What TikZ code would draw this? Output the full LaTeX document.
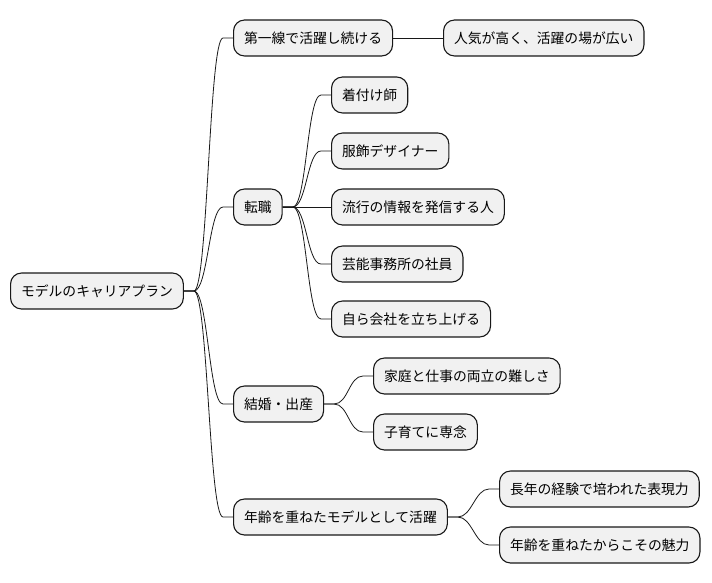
\documentclass[tikz,border=0pt]{standalone}
\usepackage{fontspec}
\setmainfont{Noto Sans CJK JP}
\usepackage{tikz}
\usetikzlibrary{positioning,calc}
\definecolor{boxfill}{HTML}{F1F1F1}
\definecolor{boxline}{HTML}{181818}

\begin{document}
\begin{tikzpicture}[x=1pt,y=-1pt,
  topic/.style={draw=boxline,fill=boxfill,line width=1.1pt,rounded corners=11pt,
    minimum height=36pt,inner xsep=10.5pt,anchor=west,
    font=\fontsize{13.8pt}{16pt}\selectfont},
  link/.style={line width=0.8pt,boxline},
  branch/.style={to path={-- ++(10pt,0) .. controls +(14pt,0) and ($(\tikztotarget)+(-24pt,0)$) .. ($(\tikztotarget)+(-10pt,0)$) -- (\tikztotarget)}}
]
\useasboundingbox (0,0) rectangle (712,583);

%--- Root ---
\node[topic] (root) at (10,291) {モデルのキャリアプラン};

%--- First level ---
\node[topic] (first)  at (233,38)  {第一線で活躍し続ける};
\node[topic] (change) at (233,207) {転職};
\node[topic] (family) at (233,404) {結婚・出産};
\node[topic] (mature) at (233,517) {年齢を重ねたモデルとして活躍};

%--- Second level ---
\node[topic] (popular) at (443,38) {人気が高く、活躍の場が広い};

\node[topic] (kitsuke) at (331,95)  {着付け師};
\node[topic] (design)  at (331,151) {服飾デザイナー};
\node[topic] (trend)   at (331,207) {流行の情報を発信する人};
\node[topic] (agency)  at (331,264) {芸能事務所の社員};
\node[topic] (company) at (331,319) {自ら会社を立ち上げる};

\node[topic] (balance) at (373,376) {家庭と仕事の両立の難しさ};
\node[topic] (raise)   at (373,432) {子育てに専念};

\node[topic] (express) at (499,489) {長年の経験で培われた表現力};
\node[topic] (charm)   at (499,545) {年齢を重ねたからこその魅力};

%--- Links ---
\foreach \c in {first,change,family,mature}
  \draw[link] (root.east) to[branch] (\c.west);
\draw[link] (first.east) -- (popular.west);
\foreach \c in {kitsuke,design,agency,company}
  \draw[link] (change.east) to[branch] (\c.west);
\draw[link] (change.east) -- (trend.west);
\foreach \c in {balance,raise}
  \draw[link] (family.east) to[branch] (\c.west);
\foreach \c in {express,charm}
  \draw[link] (mature.east) to[branch] (\c.west);
\end{tikzpicture}
\end{document}
